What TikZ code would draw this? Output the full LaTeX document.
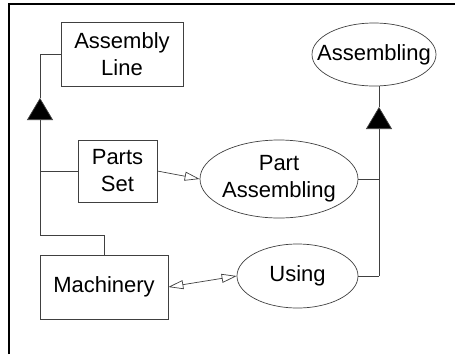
\documentclass[tikz,border=0pt]{standalone}
\usepackage{fontspec}
\setmainfont{Liberation Sans}
\usetikzlibrary{arrows.meta,shapes.geometric}

\begin{document}
\begin{tikzpicture}[x=1pt,y=-1pt,
    line width=0.7pt,
    font=\fontsize{22}{27}\selectfont,
    box/.style={draw=black!75,rectangle,inner sep=0pt,align=center},
    usecase/.style={draw=black!75,ellipse,inner xsep=-22pt,inner ysep=-14pt,align=center},
    conn/.style={draw=black!75},
    gen/.style={conn,-{Triangle[length=22pt,width=26pt,fill=black]}},
    assoc/.style={conn,-{Triangle[open,length=15pt,width=9pt]}},
    biassoc/.style={conn,{Triangle[open,length=15pt,width=9pt]}-{Triangle[open,length=15pt,width=9pt]}}]
      \useasboundingbox (0,0) rectangle (455,354);
      % frame
      \draw[line width=2pt] (9,354) -- (9,4) -- (455,4);
      % classes
      \node[box,minimum width=122pt,minimum height=64pt] (line) at (122,54) {Assembly\\Line};
      \node[box,minimum width=79pt,minimum height=62pt] (parts) at (117.5,171) {Parts\\Set};
      \node[box,minimum width=128pt,minimum height=64pt] (mach) at (104,287) {Machinery};
      % use cases
      \node[usecase,minimum width=124pt,minimum height=63pt] (asm) at (374,54.5) {Assembling};
      \node[usecase,minimum width=158pt,minimum height=78pt] (partasm) at (279,179) {Part\\Assembling};
      \node[usecase,minimum width=121pt,minimum height=64pt] (using) at (297.5,276) {Using};
      % left generalization
      \coordinate (ljoin) at (40,235);
      \coordinate (ltip) at (40,98);
      \draw[conn] (mach.north) |- (ljoin);
      \draw[gen] (ljoin) -- (ltip);
      \draw[conn] (ltip) |- (line.west);
      \draw[conn] (parts.west) -- (parts.west -| ljoin);
      % right generalization
      \coordinate (rjoin) at (379,276);
      \coordinate (rtip) at (379,107);
      \draw[conn] (using.east) -- (rjoin);
      \draw[gen] (rjoin) -- (rtip);
      \draw[conn] (rtip) -- (rtip |- asm.south);
      \draw[conn] (partasm.east) -- (partasm.east -| rjoin);
      % associations
      \draw[assoc] (parts.east) -- (partasm.west);
      \draw[biassoc] (mach.east) -- (using.west);
    \end{tikzpicture}
\end{document}
